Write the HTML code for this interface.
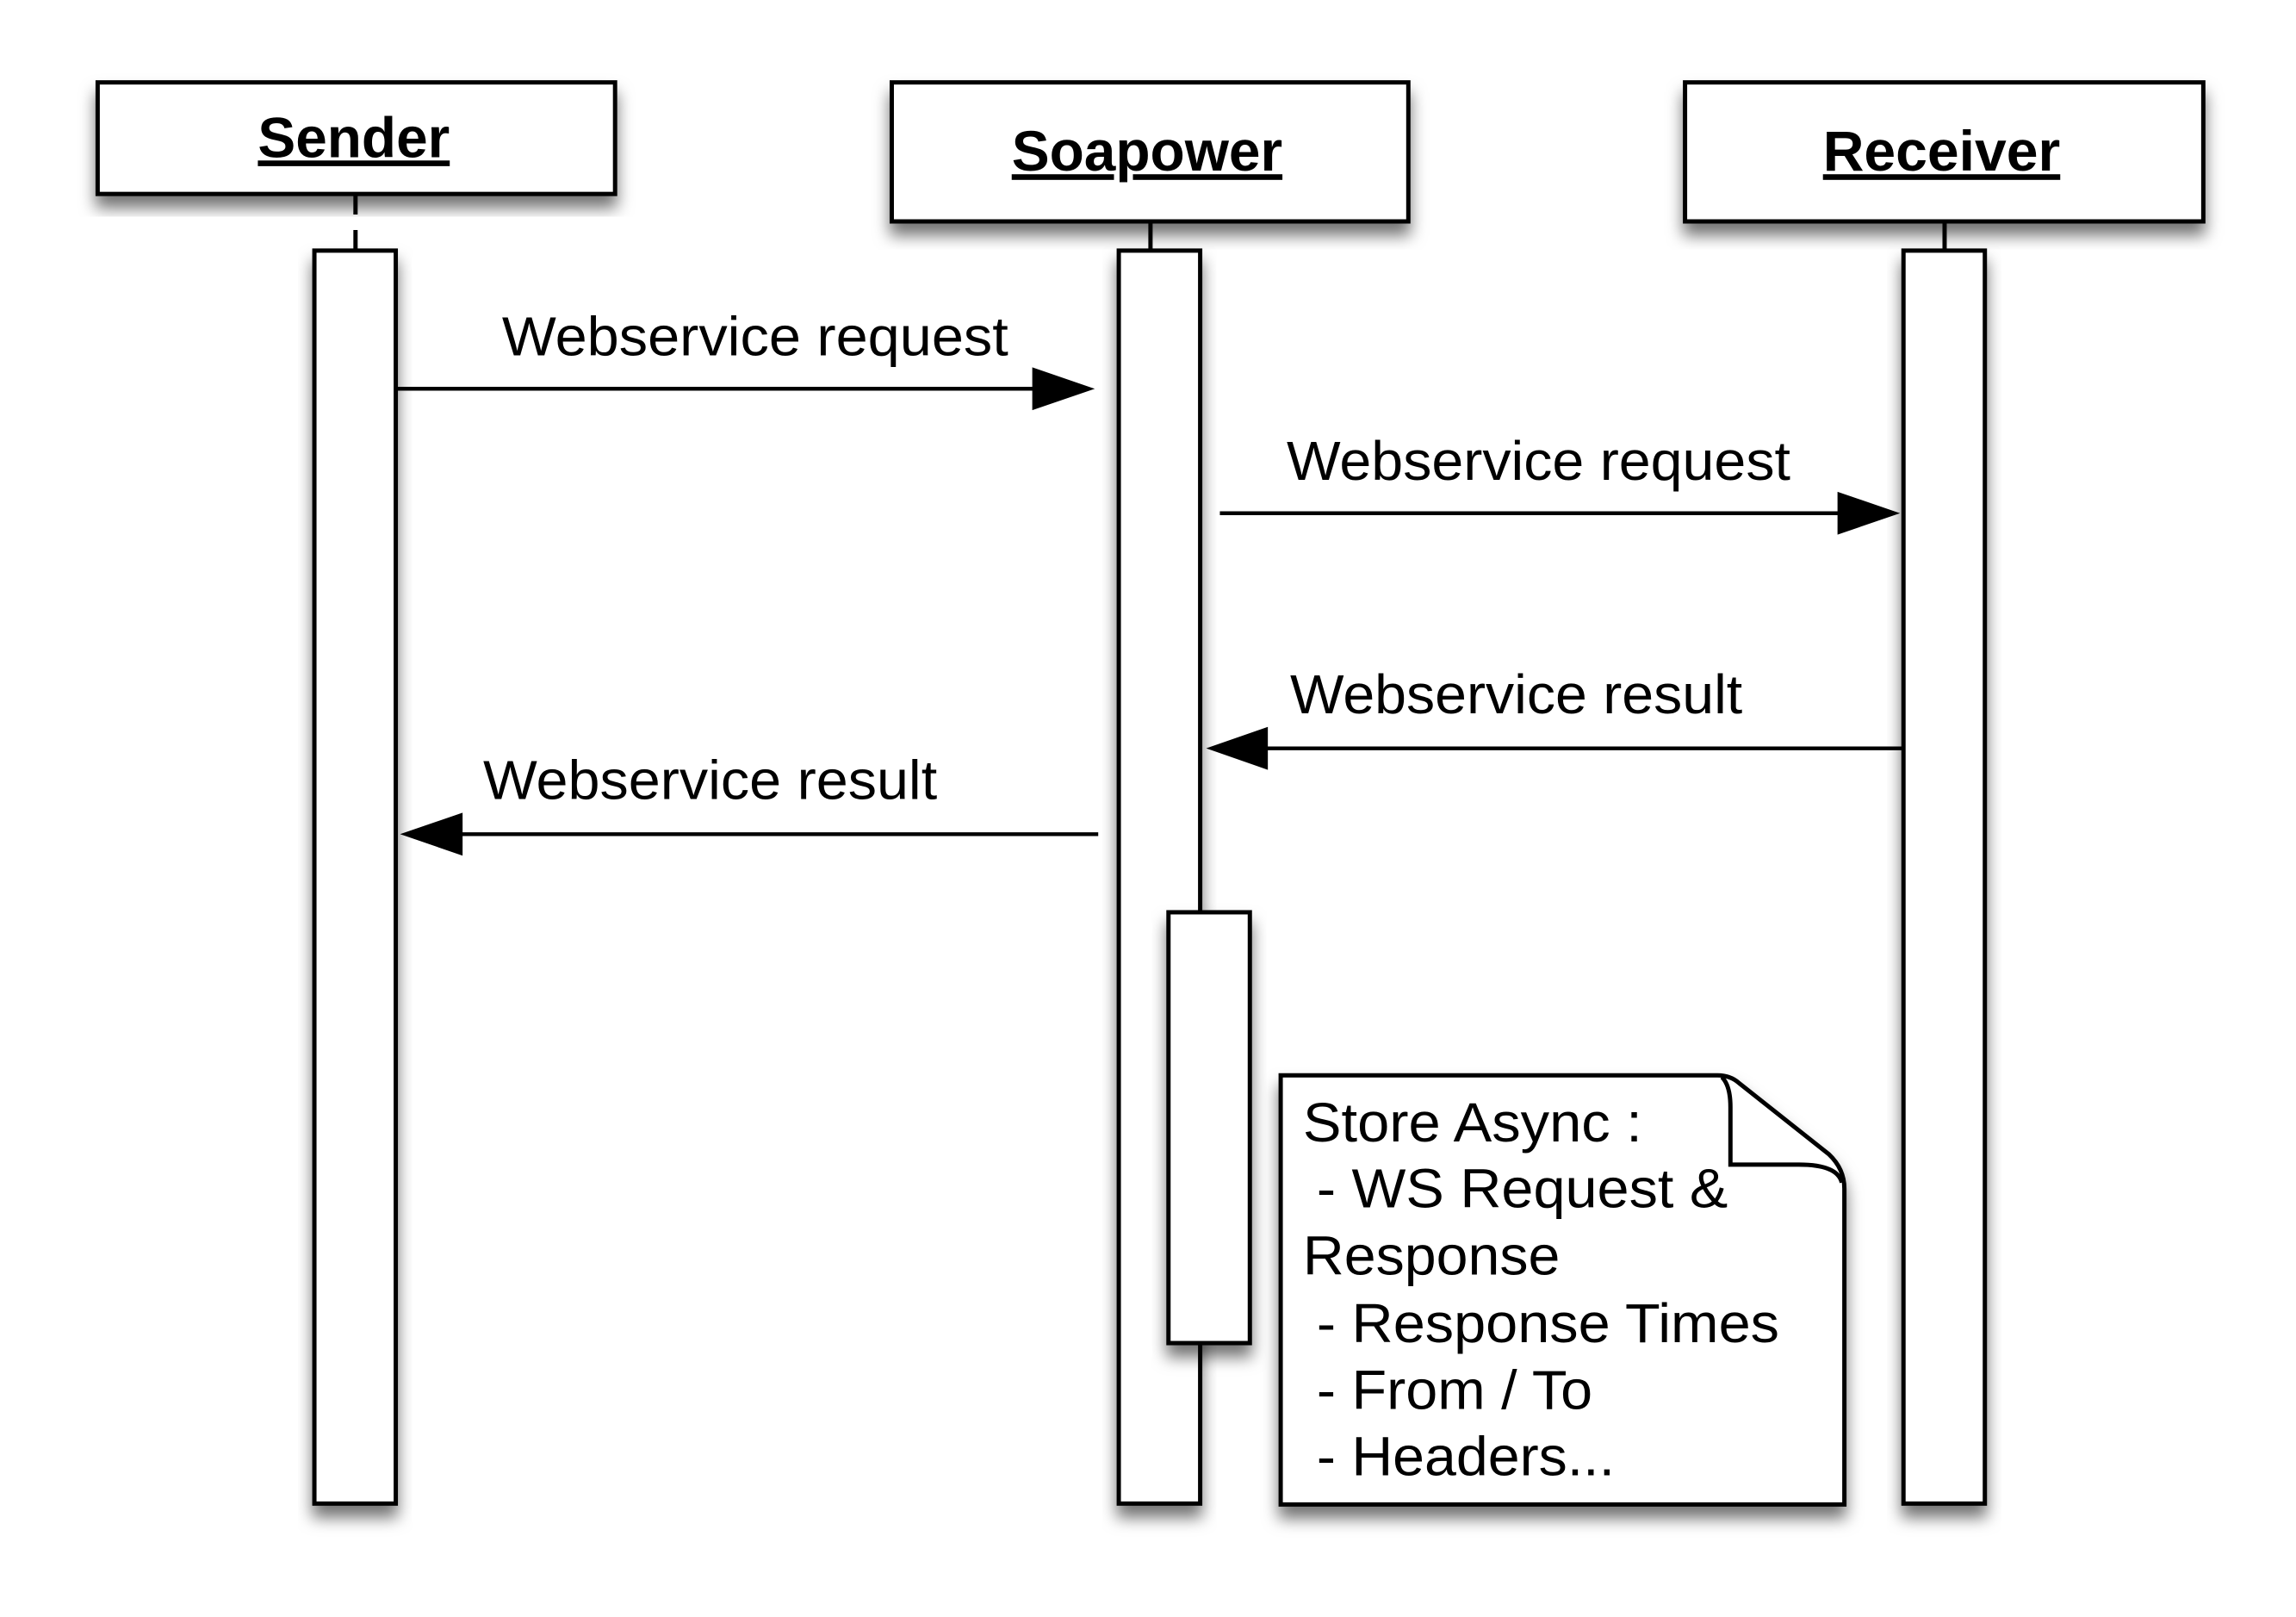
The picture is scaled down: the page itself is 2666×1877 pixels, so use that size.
<!DOCTYPE html>
<html><head><meta charset="utf-8"><style>
html,body{margin:0;padding:0;background:#fff}
svg{display:block}
text{font-family:"Liberation Sans",Arial,sans-serif;fill:#000}
</style></head><body>
<svg width="2666" height="1877" viewBox="0 0 2666 1877" xmlns="http://www.w3.org/2000/svg">
<defs>
<filter id="sh" x="-20%" y="-20%" width="140%" height="140%">
<feDropShadow dx="0" dy="14" stdDeviation="9" flood-color="#000" flood-opacity="0.55"/>
</filter>
</defs>
<g transform="scale(0.9947,0.9962)">
<g stroke="#000" stroke-width="5" fill="#fff">
<line x1="415" y1="228" x2="415" y2="292" stroke-dasharray="22,18"/>
<line x1="1343" y1="260" x2="1343" y2="292"/>
<line x1="2270" y1="260" x2="2270" y2="292"/>
<rect x="114" y="96" width="604" height="130" filter="url(#sh)"/>
<rect x="1041" y="96" width="603" height="162" filter="url(#sh)"/>
<rect x="1967" y="96" width="605" height="162" filter="url(#sh)"/>
<rect x="367" y="292" width="95" height="1460" filter="url(#sh)"/>
<rect x="1306" y="292" width="95" height="1460" filter="url(#sh)"/>
<rect x="2222" y="292" width="95" height="1460" filter="url(#sh)"/>
<rect x="1364" y="1063" width="95" height="502" filter="url(#sh)"/>
<path d="M1495 1253 H2005 Q2020 1253 2030 1262 L2135 1345 Q2153 1362 2153 1385 V1753 H1495 Z" filter="url(#sh)"/>
<path d="M2010 1255 Q2020 1265 2020 1290 V1357 H2100 Q2145 1357 2150 1378" fill="none"/>
</g>
<g stroke="#000" stroke-width="4.5" fill="none">
<line x1="463" y1="453" x2="1210" y2="453"/>
<line x1="1424" y1="598" x2="2150" y2="598"/>
<line x1="2222" y1="872" x2="1475" y2="872"/>
<line x1="1282" y1="972" x2="535" y2="972"/>
</g>
<g fill="#000">
<polygon points="1205,428 1278,453 1205,478"/>
<polygon points="2145,573 2218,598 2145,623"/>
<polygon points="1480,847 1408,872 1480,897"/>
<polygon points="540,947 467,972 540,997"/>
</g>
<g font-weight="bold" font-size="66" text-decoration="underline">
<text x="301" y="183" textLength="224" lengthAdjust="spacingAndGlyphs">Sender</text>
<text x="1181" y="199" textLength="316" lengthAdjust="spacingAndGlyphs">Soapower</text>
<text x="2128" y="199" textLength="277" lengthAdjust="spacingAndGlyphs">Receiver</text>
</g>
<g font-size="64">
<text x="586" y="414" textLength="591" lengthAdjust="spacingAndGlyphs">Webservice request</text>
<text x="1502" y="559" textLength="588" lengthAdjust="spacingAndGlyphs">Webservice request</text>
<text x="1506" y="831" textLength="528" lengthAdjust="spacingAndGlyphs">Webservice result</text>
<text x="564" y="931" textLength="530" lengthAdjust="spacingAndGlyphs">Webservice result</text>
</g>
<g font-size="64">
<text x="1521" y="1330" textLength="396" lengthAdjust="spacingAndGlyphs">Store Async :</text>
<text x="1537" y="1407" textLength="480" lengthAdjust="spacingAndGlyphs">- WS Request &amp;</text>
<text x="1521" y="1485" textLength="300" lengthAdjust="spacingAndGlyphs">Response</text>
<text x="1537" y="1564" textLength="540" lengthAdjust="spacingAndGlyphs">- Response Times</text>
<text x="1537" y="1642" textLength="322" lengthAdjust="spacingAndGlyphs">- From / To</text>
<text x="1537" y="1719" textLength="348" lengthAdjust="spacingAndGlyphs">- Headers...</text>
</g>
</g>
</svg>
</body></html>
